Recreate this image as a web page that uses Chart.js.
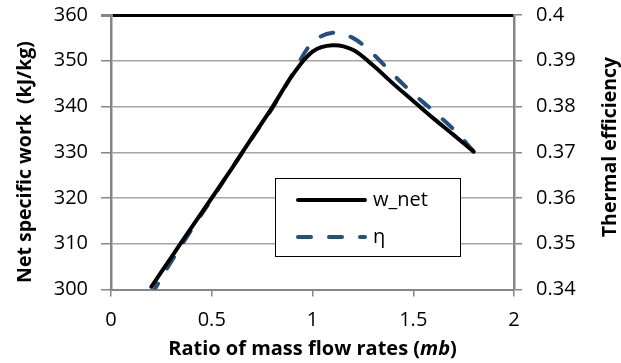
<!DOCTYPE html>
<html>
<head>
<meta charset="utf-8">
<script src="https://cdn.jsdelivr.net/npm/chart.js@4.4.1/dist/chart.umd.min.js"></script>
<style>
  html, body { margin: 0; padding: 0; background: #fff; }
  #wrap { width: 621px; height: 363px; }
</style>
</head>
<body>
<div id="wrap"><canvas id="chart" width="621" height="363"></canvas></div>
<script>
// Datos
const mbValues = [0.2, 0.3, 0.4, 0.5, 0.6, 0.7, 0.8, 0.9, 1.0, 1.1, 1.2, 1.3, 1.4, 1.5, 1.6, 1.7, 1.8];
const wNetValues = [300.6, 307.1, 313.6, 320.0, 326.5, 333.2, 339.8, 346.8, 352.0, 353.4, 352.4, 349.0, 345.0, 341.2, 337.4, 333.8, 330.1];
const etaValues = [0.3388, 0.3462, 0.3531, 0.3598, 0.3665, 0.3731, 0.3796, 0.3870, 0.3940, 0.3961, 0.3950, 0.3915, 0.3870, 0.3828, 0.3790, 0.3750, 0.3702];

const seriesLabels = ['w_net', 'η'];
const xTitle = ['Ratio of mass flow rates (', 'mb', ')'];
const yLeftTitle = 'Net specific work  (kJ/kg)';
const yRightTitle = 'Thermal efficiency';

// Estilo
const FONT = "'Open Sans', 'Noto Sans', sans-serif";
const gridGray = '#a6a6a6';
const axisGray = '#868686';
const etaBlue = '#24507f';

// Títulos de ejes y leyenda dibujados a mano
const customText = {
  id: 'customText',
  afterDraw(chart) {
    const { ctx, chartArea } = chart;
    ctx.save();
    ctx.fillStyle = '#000';
    ctx.textBaseline = 'middle';

    // título izquierdo
    ctx.font = 'bold 19.5px ' + FONT;
    ctx.textAlign = 'center';
    ctx.save();
    ctx.translate(25, 162);
    ctx.rotate(-Math.PI / 2);
    ctx.fillText(yLeftTitle, 0, 0);
    ctx.restore();

    // título derecho
    ctx.save();
    ctx.translate(610, 147);
    ctx.rotate(-Math.PI / 2);
    ctx.fillText(yRightTitle, 0, 0);
    ctx.restore();

    // título eje x (con "mb" en cursiva)
    const fonts = ['bold 20px ' + FONT, 'italic bold 20px ' + FONT, 'bold 20px ' + FONT];
    let total = 0;
    const widths = xTitle.map((t, i) => { ctx.font = fonts[i]; const w = ctx.measureText(t).width; total += w; return w; });
    let x = (chartArea.left + chartArea.right) / 2 - total / 2;
    ctx.textAlign = 'left';
    xTitle.forEach((t, i) => {
      ctx.font = fonts[i];
      ctx.fillText(t, x, 349);
      x += widths[i];
    });

    // leyenda
    const box = { x: 275, y: 178, w: 185, h: 78 };
    ctx.fillStyle = '#fff';
    ctx.fillRect(box.x, box.y, box.w, box.h);
    ctx.strokeStyle = '#000';
    ctx.lineWidth = 1;
    ctx.strokeRect(box.x + 0.5, box.y + 0.5, box.w, box.h);
    chart.data.datasets.forEach((ds, i) => {
      const ly = box.y + 22 + i * 37;
      ctx.beginPath();
      ctx.strokeStyle = ds.borderColor;
      ctx.lineWidth = ds.borderWidth;
      ctx.lineCap = 'round';
      ctx.setLineDash(ds.borderDash || []);
      ctx.moveTo(box.x + 23, ly);
      ctx.lineTo(box.x + 90, ly);
      ctx.stroke();
      ctx.setLineDash([]);
      ctx.fillStyle = '#000';
      ctx.font = '20px ' + FONT;
      ctx.fillText(ds.label, box.x + 98, ly);
    });
    ctx.restore();
  }
};

// sin relleno extra arriba/abajo para fijar el área del gráfico
const fixY = w => s => { s.width = w; s.paddingTop = 0; s.paddingBottom = 0; };

const chart = new Chart(document.getElementById('chart'), {
  type: 'line',
  data: {
    datasets: [
      {
        label: seriesLabels[0],
        data: mbValues.map((x, i) => ({ x: x, y: wNetValues[i] })),
        yAxisID: 'y',
        borderColor: '#000',
        borderWidth: 4,
        borderCapStyle: 'round',
        pointRadius: 0,
        tension: 0.35,
        fill: false
      },
      {
        label: seriesLabels[1],
        data: mbValues.map((x, i) => ({ x: x, y: etaValues[i] })),
        yAxisID: 'y1',
        borderColor: etaBlue,
        borderWidth: 4,
        borderDash: [13, 18],
        borderCapStyle: 'round',
        pointRadius: 0,
        tension: 0.35,
        fill: false
      }
    ]
  },
  options: {
    responsive: false,
    animation: false,
    layout: { padding: { top: 15, left: 0, right: 0, bottom: 0 } },
    plugins: { legend: { display: false }, tooltip: { enabled: false } },
    scales: {
      x: {
        type: 'linear',
        min: 0, max: 2,
        ticks: { stepSize: 0.5, color: '#000', font: { family: FONT, size: 20 }, padding: 12, maxRotation: 0,
                 callback: v => String(v) },
        grid: { drawOnChartArea: false, drawTicks: true, tickLength: 7, color: axisGray, lineWidth: 1.5 },
        border: { color: axisGray, width: 2 },
        afterFit: s => { s.height = 73.5; s.paddingLeft = 0; s.paddingRight = 0; }
      },
      y: {
        position: 'left',
        min: 300, max: 360,
        ticks: { stepSize: 10, color: '#000', font: { family: FONT, size: 20 }, padding: 13, callback: v => String(v) },
        grid: {
          color: c => c.tick && c.tick.value === 360 ? '#000' : gridGray,
          lineWidth: c => c.tick && c.tick.value === 360 ? 3 : 1.5,
          tickColor: axisGray,
          tickLength: 10
        },
        border: { color: axisGray, width: 2.5 },
        afterFit: fixY(111)
      },
      y1: {
        position: 'right',
        min: 0.34, max: 0.4,
        ticks: { stepSize: 0.01, color: '#000', font: { family: FONT, size: 20 }, padding: 14,
                 callback: v => Number(v.toFixed(2)).toString() },
        grid: { drawOnChartArea: false, tickLength: 8, color: axisGray, lineWidth: 1.5 },
        border: { color: axisGray, width: 2.5 },
        afterFit: fixY(107)
      }
    }
  },
  plugins: [customText]
});
</script>
</body>
</html>
